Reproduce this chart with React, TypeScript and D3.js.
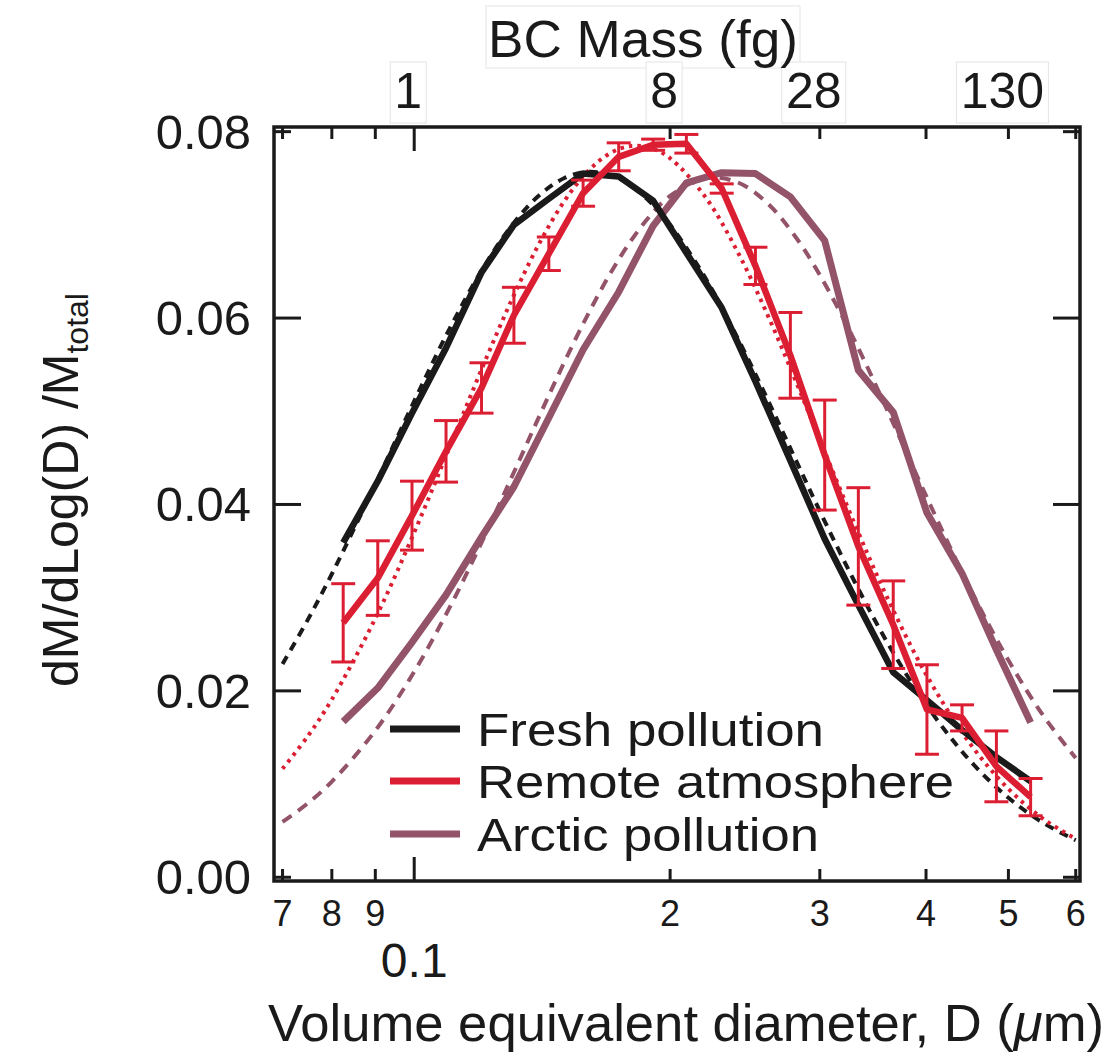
import React from "react";
import * as d3 from "d3";

// ---- data ----
const D_BINS = [0.0825, 0.0906, 0.0994, 0.109, 0.120, 0.131, 0.144, 0.158, 0.174, 0.191, 0.209, 0.230, 0.252, 0.277, 0.304, 0.333, 0.366, 0.401, 0.441, 0.484, 0.531];
const FRESH = [0.0359, 0.0425, 0.0498, 0.0568, 0.0649, 0.0700, 0.0728, 0.0755, 0.0752, 0.0726, 0.0670, 0.0611, 0.0532, 0.0447, 0.0363, 0.0292, 0.0220, 0.0190, 0.0158, 0.0129, 0.0103];
const REMOTE = [0.0273, 0.0321, 0.0388, 0.0457, 0.0525, 0.0603, 0.0669, 0.0734, 0.0773, 0.0786, 0.0787, 0.0739, 0.0656, 0.0560, 0.0453, 0.0355, 0.0271, 0.0180, 0.0171, 0.0119, 0.0086];
const REMOTE_ERR = [0.0042, 0.0040, 0.0037, 0.0033, 0.0027, 0.0030, 0.0018, 0.0014, 0.0015, 0.0006, 0.0010, 0.0005, 0.0020, 0.0046, 0.0059, 0.0063, 0.0047, 0.0048, 0.0014, 0.0038, 0.0020];
const ARCTIC = [0.0167, 0.0203, 0.0252, 0.0303, 0.0365, 0.0419, 0.0493, 0.0566, 0.0628, 0.0699, 0.0745, 0.0756, 0.0755, 0.0730, 0.0683, 0.0544, 0.0499, 0.0391, 0.0326, 0.0244, 0.0166];

const FIT_D = [0.07, 0.075, 0.08, 0.09, 0.1, 0.11, 0.12, 0.13, 0.14, 0.15, 0.16, 0.17, 0.18, 0.19, 0.2, 0.22, 0.24, 0.26, 0.28, 0.3, 0.33, 0.36, 0.4, 0.45, 0.5, 0.55, 0.6];
const FRESH_FIT = [0.02289, 0.02767, 0.03254, 0.04217, 0.05109, 0.05882, 0.06509, 0.06983, 0.0731, 0.075, 0.07569, 0.07536, 0.07419, 0.07235, 0.07002, 0.06431, 0.05789, 0.05139, 0.04511, 0.03929, 0.03163, 0.02523, 0.01854, 0.01257, 0.00853, 0.00581, 0.00398];
const REMOTE_FIT = [0.01164, 0.01517, 0.01908, 0.02777, 0.0370, 0.04609, 0.05448, 0.0618, 0.06784, 0.07248, 0.07573, 0.07769, 0.07847, 0.07823, 0.07714, 0.0730, 0.06714, 0.06048, 0.0536, 0.04693, 0.03783, 0.03003, 0.02179, 0.01442, 0.00949, 0.00624, 0.00412];
const ARCTIC_FIT = [0.00595, 0.00795, 0.01027, 0.01573, 0.02206, 0.0289, 0.03591, 0.04278, 0.04927, 0.05517, 0.06035, 0.06475, 0.06833, 0.07111, 0.07311, 0.07501, 0.07457, 0.07237, 0.06889, 0.06462, 0.05749, 0.05014, 0.04094, 0.0311, 0.02328, 0.01729, 0.0128];

const X_TICKS = [0.07, 0.08, 0.09, 0.1, 0.2, 0.3, 0.4, 0.5, 0.6];
const X_TICK_LABELS = ["7", "8", "9", "", "2", "3", "4", "5", "6"];
const Y_TICKS = [0, 0.02, 0.04, 0.06, 0.08];
const Y_TICK_LABELS = ["0.00", "0.02", "0.04", "0.06", "0.08"];
const MASS_TICKS = [0.1, 0.2, 0.3, 0.5];
const MASS_LABELS = ["1", "8", "28", "130"];

const LEGEND = ["Fresh pollution", "Remote atmosphere", "Arctic pollution"];
const LEGEND_WIDTHS = [347, 477, 342];

const BLACK = "#1a1a1a";
const RED = "#dc1e33";
const MAUVE = "#935369";
const FONT = "'Liberation Sans', Arial, Helvetica, sans-serif";

export default function App() {
  const W = 1114, H = 1058;
  const L = 274, R = 1080, T = 127, B = 881;
  const x = d3.scaleLog().domain([0.0684, 0.607]).range([L, R]);
  const y = d3.scaleLinear().domain([-0.0004, 0.0805]).range([B, T]);

  const lineLin = d3.line<[number, number]>().x(d => x(d[0])).y(d => y(d[1]));
  const lineSmooth = d3.line<[number, number]>().x(d => x(d[0])).y(d => y(d[1])).curve(d3.curveCatmullRom.alpha(0.5));

  const zip = (xs: number[], ys: number[]) => xs.map((v, i) => [v, ys[i]] as [number, number]);

  const legendColors = [BLACK, RED, MAUVE];
  const legendY = [729, 781, 834];

  return (
    <svg width={W} height={H} style={{ position: "absolute", left: 0, top: 0, background: "#fff" }} fontFamily={FONT}>
      {/* top labels boxes */}
      <rect x={486} y={6} width={314} height={62} fill="#fff" stroke="#e4e4e4" strokeWidth={1} />
      {MASS_TICKS.map((m, i) => {
        const w = MASS_LABELS[i].length * 28 + 8;
        return <rect key={"mb" + i} x={x(m) - 6 - w / 2} y={62} width={w} height={61} fill="#fff" stroke="#e4e4e4" strokeWidth={1} />;
      })}
      <text x={643} y={57} fontSize={52} textAnchor="middle" fill={BLACK} textLength={310} lengthAdjust="spacingAndGlyphs">BC Mass (fg)</text>
      {MASS_TICKS.map((m, i) => (
        <text key={"ml" + i} x={x(m) - 6} y={108} fontSize={50} textAnchor="middle" fill={BLACK}>{MASS_LABELS[i]}</text>
      ))}

      {/* fits */}
      <path d={lineSmooth(zip(FIT_D, ARCTIC_FIT)) || ""} fill="none" stroke={MAUVE} strokeWidth={4} strokeDasharray="11 8" />
      <path d={lineSmooth(zip(FIT_D, FRESH_FIT)) || ""} fill="none" stroke={BLACK} strokeWidth={4} strokeDasharray="9 7" />
      <path d={lineSmooth(zip(FIT_D, REMOTE_FIT)) || ""} fill="none" stroke={RED} strokeWidth={4} strokeDasharray="3.5 5" />

      {/* data lines */}
      <path d={lineLin(zip(D_BINS, ARCTIC)) || ""} fill="none" stroke={MAUVE} strokeWidth={7} strokeLinejoin="round" />
      <path d={lineLin(zip(D_BINS, FRESH)) || ""} fill="none" stroke={BLACK} strokeWidth={6.5} strokeLinejoin="round" />
      <path d={lineLin(zip(D_BINS, REMOTE)) || ""} fill="none" stroke={RED} strokeWidth={6.5} strokeLinejoin="round" />

      {/* error bars */}
      {D_BINS.map((d, i) => {
        const cx = x(d);
        const y1 = y(REMOTE[i] + REMOTE_ERR[i]);
        const y2 = y(REMOTE[i] - REMOTE_ERR[i]);
        return (
          <g key={"eb" + i} stroke={RED} strokeWidth={3}>
            <line x1={cx} x2={cx} y1={y1} y2={y2} />
            <line x1={cx - 12} x2={cx + 12} y1={y1} y2={y1} />
            <line x1={cx - 12} x2={cx + 12} y1={y2} y2={y2} />
          </g>
        );
      })}

      {/* frame */}
      <rect x={L} y={T} width={R - L} height={B - T} fill="none" stroke={BLACK} strokeWidth={3.5} />

      {/* x ticks bottom and top */}
      {X_TICKS.map((t, i) => {
        const len = t === 0.1 ? 24 : 12;
        const tx = x(t);
        return (
          <g key={"xt" + i} stroke={BLACK} strokeWidth={3}>
            <line x1={tx} x2={tx} y1={B} y2={B - len} />
            <line x1={tx} x2={tx} y1={T} y2={T + len} />
          </g>
        );
      })}
      {X_TICKS.map((t, i) => (
        X_TICK_LABELS[i] ? <text key={"xl" + i} x={x(t)} y={926} fontSize={36} textAnchor="middle" fill={BLACK}>{X_TICK_LABELS[i]}</text> : null
      ))}
      <text x={x(0.1)} y={977} fontSize={48} textAnchor="middle" fill={BLACK}>0.1</text>

      {/* y ticks */}
      {Y_TICKS.map((t, i) => {
        const len = t === 0 || t === 0.08 ? 17 : 27;
        const ty = y(t);
        return (
          <g key={"yt" + i} stroke={BLACK} strokeWidth={3}>
            <line x1={L} x2={L + len} y1={ty} y2={ty} />
            <line x1={R} x2={R - len} y1={ty} y2={ty} />
          </g>
        );
      })}
      {Y_TICKS.map((t, i) => (
        <text key={"yl" + i} x={251} y={y(t) + 17} fontSize={49} textAnchor="end" fill={BLACK}>{Y_TICK_LABELS[i]}</text>
      ))}

      {/* legend */}
      {LEGEND.map((name, i) => (
        <g key={"lg" + i}>
          <line x1={390} x2={460} y1={legendY[i]} y2={legendY[i]} stroke={legendColors[i]} strokeWidth={7} />
          <text x={477} y={legendY[i] + 17} fontSize={46.5} fill={BLACK} textLength={LEGEND_WIDTHS[i]} lengthAdjust="spacingAndGlyphs">{name}</text>
        </g>
      ))}

      {/* axis titles */}
      <text x={686} y={1041} fontSize={52} textAnchor="middle" fill={BLACK} textLength={836} lengthAdjust="spacingAndGlyphs">
        Volume equivalent diameter, D (<tspan fontStyle="italic">μ</tspan>m)
      </text>
      <text transform="translate(78,490) rotate(-90)" fontSize={50} textAnchor="middle" fill={BLACK}>
        dM/dLog(D) /M<tspan fontSize={32} dy={10}>total</tspan>
      </text>
    </svg>
  );
}
